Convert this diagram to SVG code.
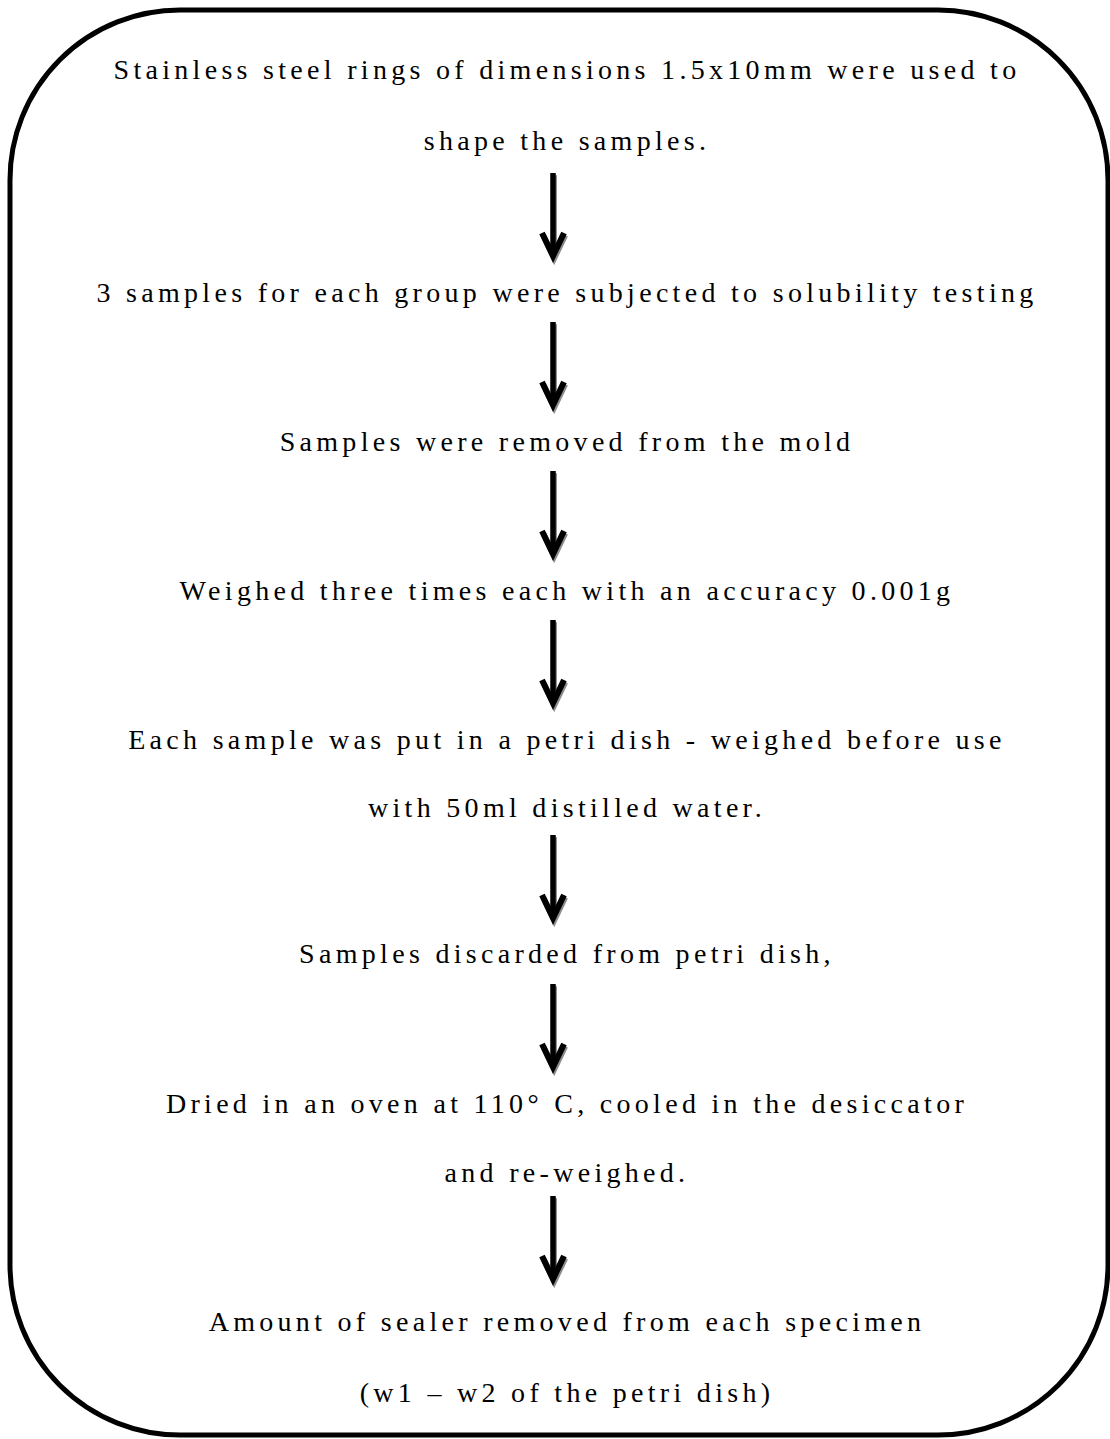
<svg xmlns="http://www.w3.org/2000/svg" width="1110" height="1439" viewBox="0 0 1110 1439">
<style>
.t{font-family:"Liberation Serif","Times New Roman",serif;font-size:28px;letter-spacing:4.3px;fill:#000;text-anchor:middle}
.arr{stroke:#000;stroke-width:5.5;fill:none}
.sh{stroke:#8c8c8c;stroke-width:5.5;fill:none}
</style>
<defs>
<marker id="ah" markerUnits="userSpaceOnUse" viewBox="-20 -34 40 48" refX="0" refY="0" markerWidth="40" markerHeight="48" orient="0">
<polyline points="-11,-23 0,0 11,-23" fill="none" stroke="#000" stroke-width="6"/>
</marker>
<marker id="ahs" markerUnits="userSpaceOnUse" viewBox="-20 -34 40 48" refX="0" refY="0" markerWidth="40" markerHeight="48" orient="0">
<polyline points="-11,-23 0,0 11,-23" fill="none" stroke="#8c8c8c" stroke-width="6"/>
</marker>
</defs>
<rect x="10" y="10" width="1098" height="1425" rx="170" ry="170" fill="#fff" stroke="#000" stroke-width="5"/>
<g id="connectors">
<g transform="translate(1.2,2.2)">
<path class="sh" d="M553 173V256" marker-end="url(#ahs)"/>
<path class="sh" d="M553 322V405" marker-end="url(#ahs)"/>
<path class="sh" d="M553 471V554" marker-end="url(#ahs)"/>
<path class="sh" d="M553 620V703" marker-end="url(#ahs)"/>
<path class="sh" d="M553 835V918" marker-end="url(#ahs)"/>
<path class="sh" d="M553 984V1067" marker-end="url(#ahs)"/>
<path class="sh" d="M553 1196V1279" marker-end="url(#ahs)"/>
</g>
<path class="arr" d="M553 173V256" marker-end="url(#ah)"/>
<path class="arr" d="M553 322V405" marker-end="url(#ah)"/>
<path class="arr" d="M553 471V554" marker-end="url(#ah)"/>
<path class="arr" d="M553 620V703" marker-end="url(#ah)"/>
<path class="arr" d="M553 835V918" marker-end="url(#ah)"/>
<path class="arr" d="M553 984V1067" marker-end="url(#ah)"/>
<path class="arr" d="M553 1196V1279" marker-end="url(#ah)"/>
</g>
<g id="n1"><text class="t" x="567" y="79">Stainless steel rings of dimensions 1.5x10mm were used to</text><text class="t" x="567" y="150">shape the samples.</text></g>
<g id="n2"><text class="t" x="567" y="302">3 samples for each group were subjected to solubility testing</text></g>
<g id="n3"><text class="t" x="567" y="451">Samples were removed from the mold</text></g>
<g id="n4"><text class="t" x="567" y="600">Weighed three times each with an accuracy 0.001g</text></g>
<g id="n5"><text class="t" x="567" y="749">Each sample was put in a petri dish - weighed before use</text><text class="t" x="567" y="817">with 50ml distilled water.</text></g>
<g id="n6"><text class="t" x="567" y="963">Samples discarded from petri dish,</text></g>
<g id="n7"><text class="t" x="567" y="1113">Dried in an oven at 110° C, cooled in the desiccator</text><text class="t" x="567" y="1182">and re-weighed.</text></g>
<g id="n8"><text class="t" x="567" y="1331">Amount of sealer removed from each specimen</text><text class="t" x="567" y="1402">(w1 – w2 of the petri dish)</text></g>
</svg>
